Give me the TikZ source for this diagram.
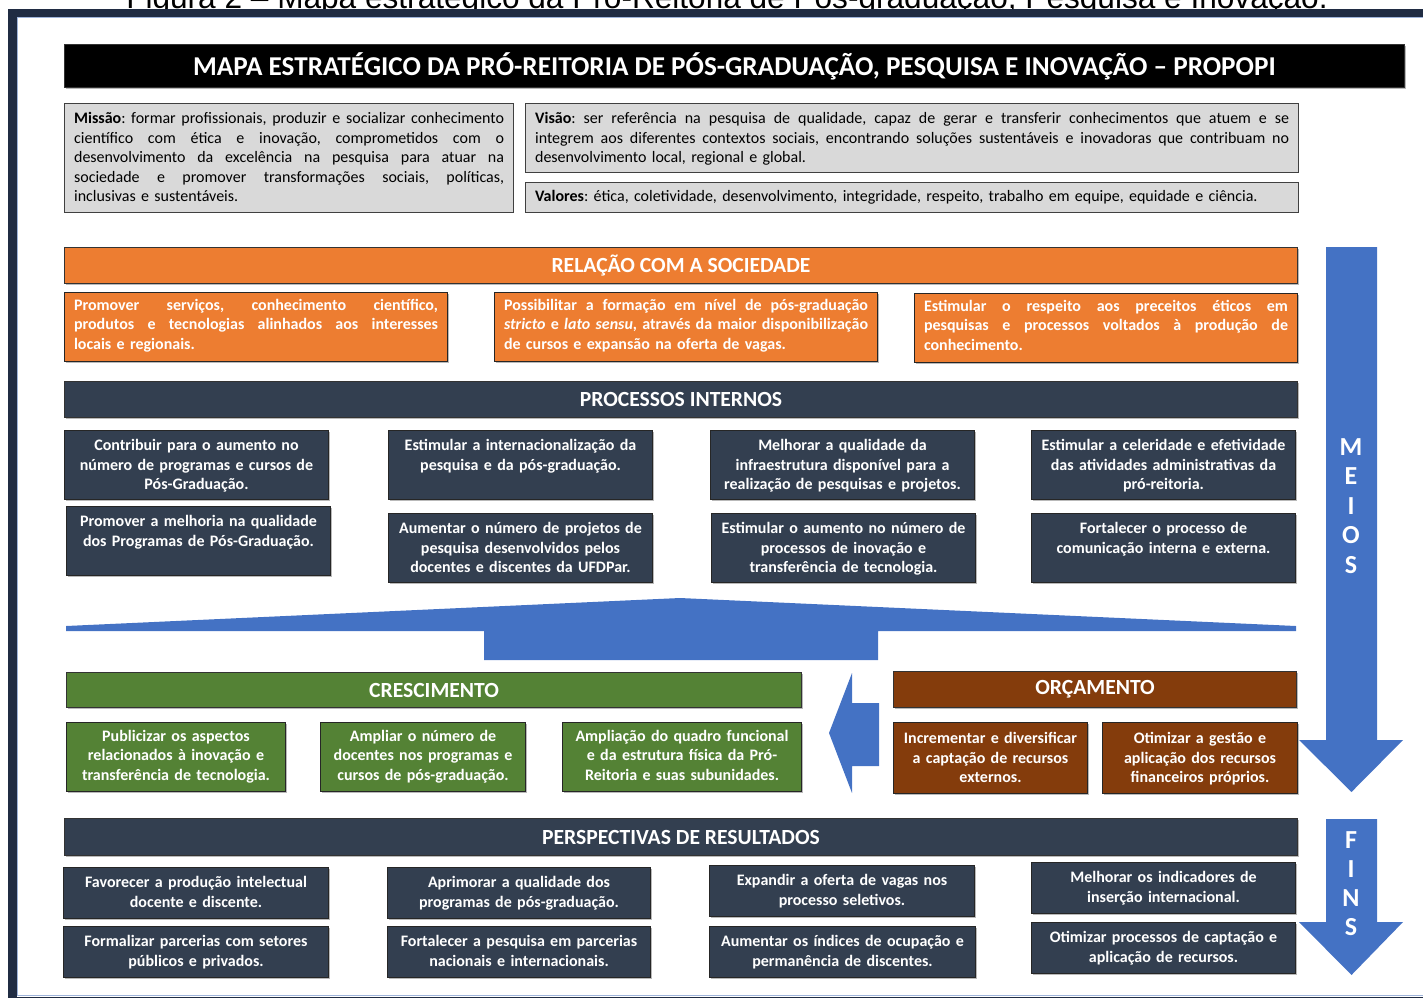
\documentclass[tikz,border=0pt]{standalone}
\usepackage{fontspec}
\setmainfont{Carlito}
\newfontfamily\capfont{Liberation Sans}
\usetikzlibrary{shadows}
\frenchspacing

\definecolor{laranja}{HTML}{ED7D31}
\definecolor{ardosia}{HTML}{333F50}
\definecolor{verde}{HTML}{548235}
\definecolor{marrom}{HTML}{843C0C}
\definecolor{azul}{HTML}{4472C4}
\definecolor{cinza}{HTML}{D9D9D9}
\definecolor{moldura}{HTML}{202C43}
\definecolor{filete}{HTML}{9FB4DA}

% linha justificada (largura explicita)
\newcommand{\jl}[2][182pt]{\leavevmode\hbox to #1{\spaceskip=0.226em plus 1em\relax #2}}

\tikzset{
 sombra/.style={drop shadow={shadow xshift=0.7pt, shadow yshift=-0.7pt, fill=black!55}},
 faixa/.style={draw=black!80, line width=0.5pt, anchor=north west, text=white, inner sep=0pt, sombra,
   font=\fontsize{10.8}{12}\selectfont\bfseries},
 cartao/.style={draw=black!85, line width=0.5pt, anchor=north west, text=white, align=center,
   inner xsep=2pt, inner ysep=2pt, text height=8pt, text depth=22.5pt, sombra,
   font=\fontsize{8}{9.75}\selectfont\bfseries},
 baixo/.style={text depth=13.5pt},
 textobox/.style={draw=black!75, line width=0.6pt, anchor=north west, fill=cinza, align=left,
   inner xsep=4.75pt, inner ysep=2pt, text height=8pt, text width=215pt,
   font=\fontsize{8}{9.75}\selectfont},
 social/.style={cartao, fill=laranja, align=left, inner xsep=4.75pt, text width=182pt,
   text height=6.9pt, text depth=23.6pt},
 letras/.style={text=white, align=center, font=\fontsize{13}{14.75}\selectfont\bfseries}
}

\begin{document}
\begin{tikzpicture}[x=0.5pt, y=-0.5pt]
\useasboundingbox (0,0) rectangle (1423,997);

% legenda cortada e moldura
\node[font=\capfont\fontsize{15.8}{18}\selectfont, anchor=base] (legenda) at (727,8)
  {Figura 2 – Mapa estratégico da Pró-Reitoria de Pós-graduação, Pesquisa e Inovação.};
\draw[moldura, line width=4.5pt] (12.5,13) rectangle (1445,1001.5);
\draw[filete, line width=0.8pt] (17.5,17.5) rectangle (1440,995.5);

% titulo
\node[faixa, fill=black, minimum width=670pt, minimum height=21.5pt,
  font=\fontsize{13.6}{15}\selectfont\bfseries] (titulo) at (64,44)
  {MAPA ESTRATÉGICO DA PRÓ-REITORIA DE PÓS-GRADUAÇÃO, PESQUISA E INOVAÇÃO – PROPOPI};

% missao, visao, valores
\node[textobox, text depth=42.5pt] (missao) at (64,103)
  {\jl[215pt]{\textbf{Missão}: formar profissionais, produzir e socializar conhecimento}\\
   \jl[215pt]{científico com ética e inovação, comprometidos com o}\\
   \jl[215pt]{desenvolvimento da excelência na pesquisa para atuar na}\\
   \jl[215pt]{sociedade e promover transformações sociais, políticas,}\\
   inclusivas e sustentáveis.};
\node[textobox, text width=377pt, text depth=22.5pt] (visao) at (525,103)
  {\jl[377pt]{\textbf{Visão}: ser referência na pesquisa de qualidade, capaz de gerar e transferir conhecimentos que atuem e se}\\
   \jl[377pt]{integrem aos diferentes contextos sociais, encontrando soluções sustentáveis e inovadoras que contribuam no}\\
   desenvolvimento local, regional e global.};
\node[textobox, text width=377pt, text height=7.4pt, text depth=3.6pt] (valores) at (525,182)
  {\textbf{Valores}: ética, coletividade, desenvolvimento, integridade, respeito, trabalho em equipe, equidade e ciência.};

% setas azuis
\fill[azul] (66,626) -- (680,598) -- (1296,626) -- (1296,631) -- (878,631) -- (878,660)
  -- (484,660) -- (484,631) -- (66,631) -- cycle;
\fill[azul] (829,733) -- (852,673) -- (852,703) -- (879,703) -- (879,766) -- (852,766)
  -- (852,793) -- cycle;
\fill[azul] (1326,247) -- (1377,247) -- (1377,740) -- (1403,740) -- (1351.5,792)
  -- (1299,740) -- (1326,740) -- cycle;
\fill[azul] (1326,819) -- (1377,819) -- (1377,922) -- (1403,922) -- (1351.5,975)
  -- (1299,922) -- (1326,922) -- cycle;
\node[letras] (meios) at (1351,506) {M\\E\\I\\O\\S};
\node[letras, font=\fontsize{13}{14.5}\selectfont\bfseries] (fins) at (1351,884) {F\\I\\N\\S};

% relacao com a sociedade
\node[faixa, fill=laranja, minimum width=616.5pt, minimum height=18pt] (relacao) at (64,247)
  {RELAÇÃO COM A SOCIEDADE};
\node[social] (soc1) at (64,292)
  {\jl{Promover serviços, conhecimento científico,}\\
   \jl{produtos e tecnologias alinhados aos interesses}\\
   locais e regionais.};
\node[social] (soc2) at (494,292)
  {\jl{Possibilitar a formação em nível de pós-graduação}\\
   \jl{\textit{stricto} e \textit{lato sensu}, através da maior disponibilização}\\
   de cursos e expansão na oferta de vagas.};
\node[social] (soc3) at (914,293)
  {\jl{Estimular o respeito aos preceitos éticos em}\\
   \jl{pesquisas e processos voltados à produção de}\\
   conhecimento.};

% processos internos
\node[faixa, fill=ardosia, minimum width=616.5pt, minimum height=18pt] (processos) at (64,381)
  {PROCESSOS INTERNOS};
\node[cartao, fill=ardosia, text width=128pt] (pi1) at (64,430)
  {Contribuir para o aumento no\\número de programas e cursos de\\Pós-Graduação.};
\node[cartao, fill=ardosia, text width=128pt] (pi2) at (388,430)
  {Estimular a internacionalização da\\pesquisa e da pós-graduação.};
\node[cartao, fill=ardosia, text width=128pt] (pi3) at (710,430)
  {Melhorar a qualidade da\\infraestrutura disponível para a\\realização de pesquisas e projetos.};
\node[cartao, fill=ardosia, text width=128pt] (pi4) at (1031,430)
  {Estimular a celeridade e efetividade\\das atividades administrativas da\\pró-reitoria.};
\node[cartao, fill=ardosia, text width=128pt] (pi5) at (66,506)
  {Promover a melhoria na qualidade\\dos Programas de Pós-Graduação.};
\node[cartao, fill=ardosia, text width=128pt] (pi6) at (388,513)
  {Aumentar o número de projetos de\\pesquisa desenvolvidos pelos\\docentes e discentes da UFDPar.};
\node[cartao, fill=ardosia, text width=128pt] (pi7) at (711,513)
  {Estimular o aumento no número de\\processos de inovação e\\transferência de tecnologia.};
\node[cartao, fill=ardosia, text width=128pt] (pi8) at (1031,513)
  {Fortalecer o processo de\\comunicação interna e externa.};

% crescimento
\node[faixa, fill=verde, minimum width=367.5pt, minimum height=17.5pt] (cresc) at (66,672)
  {CRESCIMENTO};
\node[cartao, fill=verde, text width=105.5pt, text height=7.4pt, text depth=23.1pt] (cr1) at (66,722)
  {Publicizar os aspectos\\relacionados à inovação e\\transferência de tecnologia.};
\node[cartao, fill=verde, text width=98.5pt, text height=7.4pt, text depth=23.1pt] (cr2) at (320,722)
  {Ampliar o número de\\docentes nos programas e\\cursos de pós-graduação.};
\node[cartao, fill=verde, text width=115.5pt, text height=7.4pt, text depth=23.1pt] (cr3) at (562,722)
  {Ampliação do quadro funcional\\e da estrutura física da Pró-\\Reitoria e suas subunidades.};

% orcamento
\node[faixa, fill=marrom, minimum width=201.5pt, minimum height=18pt] (orcam) at (893,671)
  {ORÇAMENTO};
\node[cartao, fill=marrom, text width=93pt, text height=8.5pt, text depth=23pt] (or1) at (893,722)
  {Incrementar e diversificar\\a captação de recursos\\externos.};
\node[cartao, fill=marrom, text width=93.5pt, text height=8.5pt, text depth=23pt] (or2) at (1102,722)
  {Otimizar a gestão e\\aplicação dos recursos\\financeiros próprios.};

% perspectivas de resultados
\node[faixa, fill=ardosia, minimum width=616.5pt, minimum height=18.5pt] (persp) at (64,818)
  {PERSPECTIVAS DE RESULTADOS};
\node[cartao, baixo, fill=ardosia, text width=128.5pt] (pr1) at (63,867)
  {Favorecer a produção intelectual\\docente e discente.};
\node[cartao, baixo, fill=ardosia, text width=127.5pt] (pr2) at (387,867)
  {Aprimorar a qualidade dos\\programas de pós-graduação.};
\node[cartao, baixo, fill=ardosia, text width=128.5pt] (pr3) at (709,865)
  {Expandir a oferta de vagas nos\\processo seletivos.};
\node[cartao, baixo, fill=ardosia, text width=128pt] (pr4) at (1031,862)
  {Melhorar os indicadores de\\inserção internacional.};
\node[cartao, baixo, fill=ardosia, text width=128.5pt] (pr5) at (63,926)
  {Formalizar parcerias com setores\\públicos e privados.};
\node[cartao, baixo, fill=ardosia, text width=127.5pt] (pr6) at (387,926)
  {Fortalecer a pesquisa em parcerias\\nacionais e internacionais.};
\node[cartao, baixo, fill=ardosia, text width=129pt] (pr7) at (709,926)
  {Aumentar os índices de ocupação e\\permanência de discentes.};
\node[cartao, baixo, fill=ardosia, text width=128pt] (pr8) at (1031,922)
  {Otimizar processos de captação e\\aplicação de recursos.};
\end{tikzpicture}
\end{document}
